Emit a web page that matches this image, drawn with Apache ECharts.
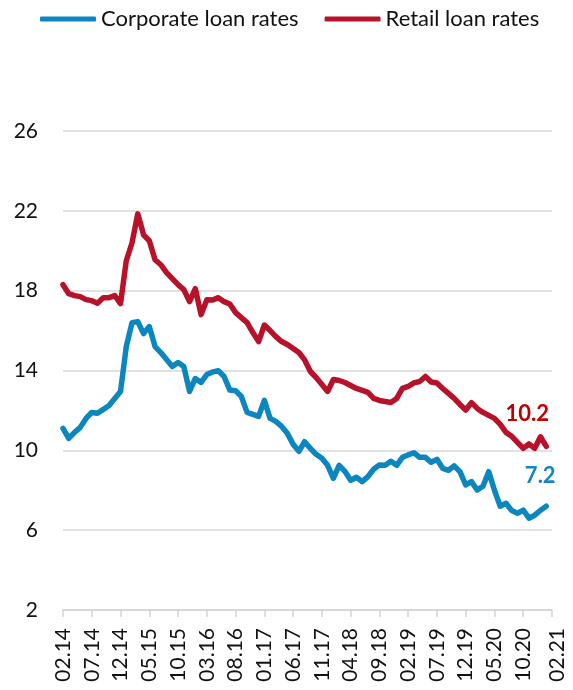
<!DOCTYPE html>
<html>
<head>
<meta charset="utf-8">
<script src="https://cdn.jsdelivr.net/npm/echarts@6/dist/echarts.min.js"></script>
<style>
  html, body { margin: 0; padding: 0; background: #ffffff; }
  #chart { width: 573px; height: 690px; }
</style>
</head>
<body>
<div id="chart"></div>
<script>
// Monthly slots 02.14 … 03.21; the final slot only carries the closing tick mark.
const months = [];
for (let y = 2014, m = 2; months.length < 86; ) {
  months.push(String(m).padStart(2, '0') + '.' + String(y % 100));
  m++;
  if (m > 12) { m = 1; y++; }
}

// Average lending rates, %, monthly from 02.14 to 02.21
const corporateRates = [
  11.1, 10.6, 10.9, 11.15, 11.6, 11.9, 11.86, 12.05, 12.25, 12.6,
  12.95, 15.2, 16.4, 16.45, 15.85, 16.2, 15.2, 14.9, 14.55, 14.2,
  14.4, 14.2, 12.95, 13.6, 13.4, 13.8, 13.93, 13.99, 13.7, 13.02,
  12.99, 12.7, 11.9, 11.8, 11.7, 12.5, 11.6, 11.45, 11.2, 10.85,
  10.3, 9.95, 10.43, 10.1, 9.8, 9.6, 9.25, 8.6, 9.25, 8.95,
  8.5, 8.65, 8.43, 8.68, 9.05, 9.27, 9.25, 9.45, 9.25, 9.65,
  9.77, 9.88, 9.65, 9.65, 9.4, 9.55, 9.1, 9.0, 9.22, 8.93,
  8.27, 8.43, 8.01, 8.2, 8.93, 8.0, 7.2, 7.35, 6.98, 6.85,
  7.0, 6.6, 6.75, 7.0, 7.2
];
const retailRates = [
  18.3, 17.85, 17.75, 17.7, 17.55, 17.5, 17.37, 17.65, 17.65, 17.75,
  17.35, 19.5, 20.4, 21.85, 20.8, 20.5, 19.55, 19.3, 18.9, 18.6,
  18.3, 18.05, 17.45, 18.1, 16.8, 17.55, 17.53, 17.65, 17.45, 17.33,
  16.9, 16.65, 16.4, 15.9, 15.45, 16.28, 16.0, 15.7, 15.45, 15.3,
  15.1, 14.9, 14.53, 13.95, 13.65, 13.3, 12.95, 13.55, 13.5, 13.4,
  13.25, 13.1, 13.0, 12.9, 12.6, 12.5, 12.45, 12.4, 12.6, 13.1,
  13.2, 13.38, 13.45, 13.7, 13.42, 13.37, 13.1, 12.85, 12.6, 12.3,
  12.02, 12.39, 12.1, 11.9, 11.75, 11.6, 11.3, 10.9, 10.7, 10.4,
  10.1, 10.32, 10.1, 10.68, 10.2
];

const seriesNames = ['Corporate loan rates', 'Retail loan rates'];
const seriesColors = ['#0c86bf', '#b8112a'];
const valueLabelColors = ['#1486c0', '#c00000'];
const yMin = 2, yMax = 26, yStep = 4;
const tickEvery = 5;
const lastIdx = corporateRates.length - 1;

const FONT = 'Lato, "Noto Sans", sans-serif';

// Only the latest observation gets a value label
function withEndLabel(values, color, offset) {
  return values.map((v, i) => i === lastIdx ? {
    value: v,
    label: {
      show: true, position: 'top', offset: offset,
      formatter: p => Number(p.value).toFixed(1),
      color: color, fontWeight: 'bold', fontSize: 22, fontFamily: FONT
    }
  } : v);
}

const chart = echarts.init(document.getElementById('chart'), null, { renderer: 'canvas' });

chart.setOption({
  animation: false,
  backgroundColor: '#ffffff',
  textStyle: { fontFamily: FONT },
  legend: {
    data: seriesNames,
    left: 35, top: 3,
    icon: 'roundRect',
    itemWidth: 56, itemHeight: 5,
    itemGap: 26,
    textStyle: { fontSize: 22, color: '#111111', fontFamily: FONT }
  },
  grid: { left: 63, right: 21, top: 131, bottom: 80, containLabel: false },
  xAxis: {
    type: 'category',
    data: months,
    boundaryGap: false,
    axisLine: { show: true, lineStyle: { color: '#d4d4d4', width: 1.5 } },
    axisTick: {
      show: true, length: 7,
      interval: (i) => i % tickEvery === 0,
      lineStyle: { color: '#d4d4d4', width: 1.5 }
    },
    axisLabel: {
      rotate: 90,
      margin: 18,
      fontSize: 21,
      color: '#111111',
      fontFamily: FONT,
      interval: (i) => (i % tickEvery === 0 && i <= 80) || i === lastIdx,
      formatter: (val, i) => i === lastIdx ? '{end|' + val + '}' : val,
      rich: { end: { fontSize: 21, fontFamily: FONT, color: '#111111', padding: [22, 0, 0, 0] } }
    },
    splitLine: { show: false }
  },
  yAxis: {
    type: 'value',
    min: yMin, max: yMax, interval: yStep,
    axisLine: { show: false },
    axisTick: { show: false },
    axisLabel: { fontSize: 21, color: '#111111', margin: 25, fontFamily: FONT },
    splitLine: { show: true, lineStyle: { color: '#d9d9d9', width: 1.5 } }
  },
  series: [
    {
      name: seriesNames[0], type: 'line',
      symbol: 'circle', symbolSize: 0, showSymbol: true,
      data: withEndLabel(corporateRates, valueLabelColors[0], [-6, -14]),
      lineStyle: { color: seriesColors[0], width: 5.5, cap: 'round', join: 'round' },
      itemStyle: { color: seriesColors[0] },
      z: 3
    },
    {
      name: seriesNames[1], type: 'line',
      symbol: 'circle', symbolSize: 0, showSymbol: true,
      data: withEndLabel(retailRates, valueLabelColors[1], [-19, -16]),
      lineStyle: { color: seriesColors[1], width: 5.5, cap: 'round', join: 'round' },
      itemStyle: { color: seriesColors[1] },
      z: 2
    }
  ]
});
</script>
</body>
</html>
